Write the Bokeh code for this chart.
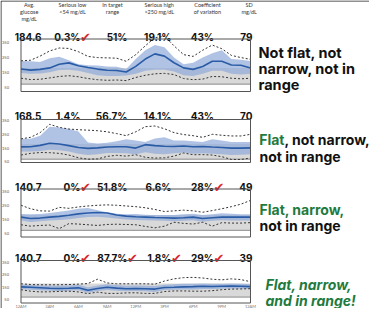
from bokeh.plotting import figure
from bokeh.models import Range1d
from bokeh.embed import file_html
from bokeh.resources import INLINE
from bokeh.core.properties import value

# ---------------- data ----------------
hours = list(range(25))
tick_hours = [0, 3, 6, 9, 12, 15, 18, 21, 24]
tick_labels = ["12AM", "3AM", "6AM", "9AM", "12PM", "3PM", "6PM", "9PM", "12AM"]
y_ticks = [50, 150, 250, 350]
target_low, target_high = 70, 180

header_labels = ["Avg.\nglucose\nmg/dL", "Serious low\n<54 mg/dL", "In target\nrange",
                 "Serious high\n>250 mg/dL", "Coefficient\nof variation", "SD\nmg/dL"]
avg_glucose = ["184.6", "168.5", "140.7", "140.7"]
serious_low = ["0.3%", "1.4%", "0%", "0%"]
in_range = ["51%", "56.7%", "51.8%", "87.7%"]
serious_high = ["19.1%", "14.1%", "6.6%", "1.8%"]
coef_var = ["43%", "43%", "28%", "29%"]
sd_val = ["79", "70", "49", "39"]
checks = [[False, True, False, False, False, False],
          [False, False, False, False, False, False],
          [False, True, False, False, True, False],
          [False, True, True, True, True, False]]

# each verdict line as (green part, black part)
verdicts = [[("", "Not flat, not"), ("", "narrow, not in"), ("", "range")],
            [("Flat", ", not narrow,"), ("", "not in range")],
            [("Flat, narrow,", ""), ("", "not in range")],
            [("Flat, narrow,", ""), ("and in range!", "")]]

# panel 1
p1_med = [173, 165, 170, 180, 205, 214, 195, 183, 172, 164, 162, 152, 190, 240, 275, 260, 215, 180, 170, 190, 225, 225, 200, 198, 180]
p1_q75 = [226, 225, 220, 245, 255, 232, 205, 198, 196, 190, 188, 172, 240, 300, 335, 320, 250, 205, 215, 250, 280, 300, 240, 235, 226]
p1_q25 = [146, 140, 142, 150, 165, 168, 160, 145, 130, 125, 125, 128, 140, 160, 168, 168, 155, 130, 125, 140, 160, 160, 140, 135, 140]
p1_p95 = [228, 232, 260, 295, 315, 312, 290, 258, 250, 248, 246, 225, 270, 330, 385, 395, 330, 270, 258, 300, 335, 310, 265, 250, 238]
p1_p05 = [110, 101, 103, 112, 122, 127, 120, 108, 100, 96, 98, 94, 115, 130, 140, 143, 135, 108, 100, 104, 122, 120, 110, 106, 110]
# panel 2
p2_med = [159, 160, 170, 185, 180, 168, 155, 148, 152, 158, 160, 160, 150, 175, 168, 163, 162, 165, 160, 162, 158, 155, 150, 150, 152]
p2_q75 = [217, 217, 240, 305, 300, 290, 270, 190, 183, 188, 200, 215, 205, 195, 220, 228, 205, 205, 200, 195, 215, 205, 195, 195, 195]
p2_q25 = [125, 125, 130, 138, 135, 125, 110, 100, 105, 115, 115, 112, 105, 120, 110, 105, 112, 118, 110, 112, 110, 105, 100, 102, 105]
p2_p95 = [217, 228, 262, 322, 300, 288, 283, 280, 276, 268, 255, 240, 268, 305, 310, 290, 262, 248, 240, 228, 250, 243, 238, 238, 250]
p2_p05 = [100, 112, 118, 117, 112, 100, 80, 70, 72, 90, 98, 92, 102, 84, 78, 80, 92, 115, 102, 103, 100, 88, 68, 68, 78]
# panel 3
p3_med = [165, 155, 158, 165, 170, 178, 188, 195, 198, 195, 180, 172, 168, 165, 162, 160, 158, 160, 165, 155, 160, 165, 165, 165, 165]
p3_q75 = [188, 185, 188, 195, 203, 212, 225, 230, 215, 200, 190, 185, 188, 182, 180, 180, 180, 185, 190, 180, 185, 192, 190, 185, 185]
p3_q25 = [140, 130, 135, 140, 145, 150, 158, 165, 168, 162, 155, 148, 145, 142, 140, 138, 136, 138, 142, 132, 138, 142, 140, 140, 140]
p3_p95 = [250, 225, 210, 208, 235, 228, 238, 245, 250, 253, 250, 245, 240, 232, 220, 205, 210, 215, 210, 200, 212, 225, 240, 258, 285]
p3_p05 = [110, 100, 105, 108, 82, 118, 115, 110, 105, 112, 114, 112, 110, 98, 88, 100, 128, 120, 115, 128, 100, 125, 122, 122, 125]
# panel 4
p4_med = [153, 150, 146, 142, 140, 142, 145, 125, 140, 150, 143, 138, 140, 138, 135, 148, 150, 153, 155, 158, 156, 158, 160, 158, 155]
p4_q75 = [170, 168, 165, 163, 162, 165, 170, 150, 165, 175, 168, 162, 165, 162, 160, 170, 175, 178, 178, 180, 178, 178, 180, 178, 175]
p4_q25 = [135, 130, 125, 122, 120, 122, 125, 105, 120, 128, 122, 118, 120, 118, 112, 128, 130, 132, 132, 135, 135, 138, 140, 138, 135]
p4_p95 = [178, 172, 170, 170, 170, 172, 175, 180, 215, 185, 178, 178, 178, 178, 175, 200, 218, 228, 230, 225, 215, 210, 218, 212, 195]
p4_p05 = [130, 118, 112, 113, 116, 118, 112, 98, 110, 100, 100, 104, 105, 100, 100, 115, 120, 120, 118, 118, 122, 130, 135, 136, 138]

panels = [(p1_med, p1_q25, p1_q75, p1_p05, p1_p95),
          (p2_med, p2_q25, p2_q75, p2_p05, p2_p95),
          (p3_med, p3_q25, p3_q75, p3_p05, p3_p95),
          (p4_med, p4_q25, p4_q75, p4_p05, p4_p95)]

# ---------------- layout (pixels within the figure) ----------------
W, H = 369, 308
PLOT_L, PLOT_R = 20.5, 250.0
PANEL_TOP = [38.5, 119.0, 188.5, 260.0]
PANEL_BOT = [91.0, 162.0, 236.5, 302.5]
VLO = [20, 46, 22, 22]
VHI = [376, 357, 367, 367]
ROW_BASE = [36.0, 115.0, 186.5, 257.0]
COL_RIGHT = [41, 80, 127, 171, 213.5, 252]
HEAD_X = [28.7, 72, 112, 158.7, 207, 248.7]
HEAD_Y0, HEAD_DY = 4.5, 6.8
VERD_X = [258, 259, 259, 265]
VERD_Y = [[52.0, 68.0, 84.0], [139.0, 155.5], [208.5, 224.5], [284.0, 299.5]]
VERD_SIZE = ["14.5px", "14px", "14px", "14px"]
VERD_STYLE = ["bold", "bold", "bold", "bold italic"]
SPLIT_DX = 25.0   # where a green prefix ends and the black rest begins

FONT = value("Inter")
FONT_SMALL = value("Lato")
GREEN = "#1f7a3d"
RED = "#d9262b"

p = figure(width=W, height=H, x_range=Range1d(0, W), y_range=Range1d(H, 0),
           output_backend="svg", toolbar_location=None, min_border=0,
           x_axis_location=None, y_axis_location=None, outline_line_color=None,
           background_fill_color="white", border_fill_color="white")
p.grid.visible = False

# hours range shared by all panels
ppx = (PLOT_R - PLOT_L) / 24.0
hx0 = -PLOT_L / ppx
p.extra_x_ranges = {"hx": Range1d(hx0, hx0 + W / ppx)}
for k in range(4):
    ppu = (PANEL_BOT[k] - PANEL_TOP[k]) / (VHI[k] - VLO[k])
    p.extra_y_ranges["p%d" % k] = Range1d(VLO[k] + (PANEL_BOT[k] - H) / ppu, VLO[k] + PANEL_BOT[k] / ppu)

# frame lines
p.segment(x0=[0.5, 0.5], y0=[0.5, 0.5], x1=[0.5, W], y1=[H, 0.5], line_color="#222", line_width=1)

# header labels
hx_, hy_, ht_ = [], [], []
for i, lab in enumerate(header_labels):
    for j, line in enumerate(lab.split("\n")):
        hx_.append(HEAD_X[i]); hy_.append(HEAD_Y0 + j * HEAD_DY); ht_.append(line)
p.text(x=hx_, y=hy_, text=ht_, text_font=FONT_SMALL, text_font_size="5.5px", text_color="#333",
       text_align="center", text_baseline="middle")

# value rows
cols = [avg_glucose, serious_low, in_range, serious_high, coef_var, sd_val]
vx, vy, vt, cx, cy = [], [], [], [], []
for r in range(4):
    for c in range(6):
        vx.append(COL_RIGHT[c]); vy.append(ROW_BASE[r]); vt.append(cols[c][r])
        if checks[r][c]:
            cx.append(COL_RIGHT[c] - 0.5); cy.append(ROW_BASE[r] + 0.5)
p.text(x=vx, y=vy, text=vt, text_font=FONT, text_font_style="bold", text_font_size="10px",
       text_color="#111", text_align="right", text_baseline="alphabetic")
p.text(x=cx, y=cy, text=["\u2714"] * len(cx), text_font=value("DejaVu Sans"), text_font_size="13px",
       text_color=RED, text_align="left", text_baseline="alphabetic")

# panels
for k, (med, q25, q75, p05, p95) in enumerate(panels):
    yr = "p%d" % k
    p.quad(left=[0], right=[24], bottom=[target_low], top=[target_high], fill_color="#d9d9d9",
           line_color=None, x_range_name="hx", y_range_name=yr)
    p.segment(x0=[0], x1=[24], y0=[target_low], y1=[target_low], line_color="#8a8a8a", line_width=1,
              x_range_name="hx", y_range_name=yr)
    p.varea(x=hours, y1=q25, y2=q75, fill_color="#8faad8", fill_alpha=0.7,
            x_range_name="hx", y_range_name=yr)
    p.line(x=hours, y=med, line_color="#2a5ca6", line_width=1.6, x_range_name="hx", y_range_name=yr)
    p.line(x=hours, y=p95, line_color="#333", line_width=1, line_dash="2 2", x_range_name="hx", y_range_name=yr)
    p.line(x=hours, y=p05, line_color="#333", line_width=1, line_dash="2 2", x_range_name="hx", y_range_name=yr)
    p.quad(left=[0], right=[24], bottom=[VLO[k]], top=[VHI[k]], fill_color=None, line_color="#555",
           line_width=1, x_range_name="hx", y_range_name=yr)
    p.text(x=[PLOT_L - 12] * len(y_ticks), y=y_ticks, text=[str(t) for t in y_ticks], text_font=FONT_SMALL,
           text_font_size="4px", text_color="#555", text_align="right", text_baseline="middle",
           y_range_name=yr)

# x tick labels (bottom panel)
p.text(x=tick_hours, y=[303.2] * len(tick_hours), text=tick_labels, text_font=FONT_SMALL, text_font_size="4px",
       text_color="#777", text_align="center", text_baseline="top", x_range_name="hx")

# verdict texts
for b, lines in enumerate(verdicts):
    for j, (g, rest) in enumerate(lines):
        style = dict(text_font=FONT, text_font_style=VERD_STYLE[b], text_font_size=VERD_SIZE[b],
                     text_baseline="middle")
        x0, y0 = VERD_X[b], VERD_Y[b][j]
        if g and rest:
            # green word ends exactly where the black remainder starts
            p.text(x=[x0 + SPLIT_DX], y=[y0], text=[g], text_color=GREEN, text_align="right", **style)
            p.text(x=[x0 + SPLIT_DX], y=[y0], text=[rest], text_color="#111", text_align="left", **style)
        elif g:
            p.text(x=[x0], y=[y0], text=[g], text_color=GREEN, text_align="left", **style)
        else:
            p.text(x=[x0], y=[y0], text=[rest], text_color="#111", text_align="left", **style)

open("out.html", "w").write(file_html(p, INLINE))
